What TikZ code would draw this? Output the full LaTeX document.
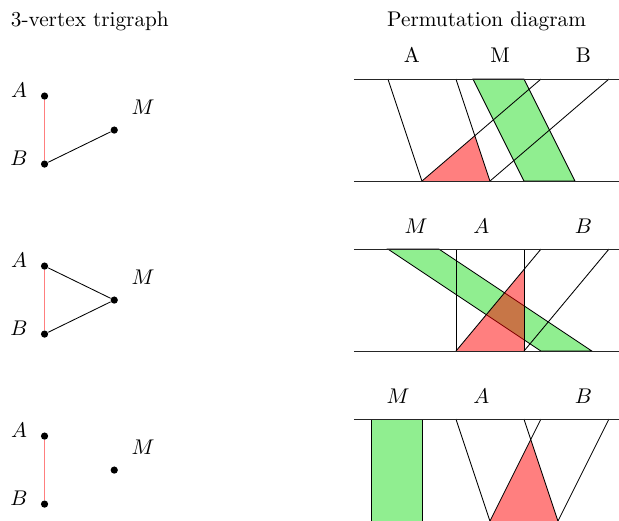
\documentclass[tikz,border=0pt]{standalone}
\usepackage{xcolor}
\usepackage{tikz}
\definecolor{lightgreen}{RGB}{144,238,144}
\tikzset{
  vertex/.style={circle, fill=black, inner sep=0pt, minimum size=3.4pt},
  band/.style={draw=black, fill=lightgreen},
  meet/.style={fill=red, fill opacity=0.5},
  strand/.style={black, line width=0.4pt},
  rail/.style={black!85, line width=0.4pt},
  redge/.style={red, draw opacity=0.5, line width=0.8pt},
}

\begin{document}
\begin{tikzpicture}[x=8pt, y=8pt]
    \useasboundingbox (-22.82,4.65) rectangle (13.59,-25.94);
    \clip (-22.82,4.65) rectangle (13.59,-25.94);

    \node[anchor=base west, inner sep=0pt] (ttlgraph) at (-22.2,3.1) {3-vertex trigraph};
    \node[anchor=base, inner sep=0pt] (ttlperm) at (5.8,3.1) {Permutation diagram};

    % row 1: A--B red, B--M
    \node[vertex] (A1) at (-20.2,-1) {};
    \node[vertex] (B1) at (-20.2,-5) {};
    \node[vertex] (M1) at (-16.1,-3) {};
    \node at (-21.7,-0.65) {$A$};
    \node at (-21.7,-4.65) {$B$};
    \node at (-14.4,-1.65) {$M$};
    \draw[redge] (A1) -- (B1);
    \draw[strand] (B1) -- (M1);

    \filldraw[band] (5,0) -- (8,0) -- (11,-6) -- (8,-6) -- cycle;
    \fill[meet] (2,-6) -- (6,-6) -- (intersection of 4,0--6,-6 and 9,0--2,-6) -- cycle;
    \draw[strand] (0,0) -- (2,-6);
    \draw[strand] (4,0) -- (6,-6);
    \draw[strand] (9,0) -- (2,-6);
    \draw[strand] (13,0) -- (6,-6);
    \draw[rail] (-2,0) -- (14,0);
    \draw[rail] (-2,-6) -- (14,-6);
    \node[anchor=base] at (1.4,0.95) {A};
    \node[anchor=base] at (6.6,0.95) {M};
    \node[anchor=base] at (11.5,0.95) {B};

    % row 2: triangle
    \node[vertex] (A2) at (-20.2,-11) {};
    \node[vertex] (B2) at (-20.2,-15) {};
    \node[vertex] (M2) at (-16.1,-13) {};
    \node at (-21.7,-10.65) {$A$};
    \node at (-21.7,-14.65) {$B$};
    \node at (-14.4,-11.65) {$M$};
    \draw[redge] (A2) -- (B2);
    \draw[strand] (A2) -- (M2);
    \draw[strand] (B2) -- (M2);

    \filldraw[band] (0,-10) -- (3,-10) -- (12,-16) -- (9,-16) -- cycle;
    \fill[meet] (4,-16) -- (8,-16) -- (intersection of 8,-10--8,-16 and 9,-10--4,-16) -- cycle;
    \draw[strand] (4,-10) -- (4,-16);
    \draw[strand] (8,-10) -- (8,-16);
    \draw[strand] (9,-10) -- (4,-16);
    \draw[strand] (13,-10) -- (8,-16);
    \draw[rail] (-2,-10) -- (14,-10);
    \draw[rail] (-2,-16) -- (14,-16);
    \node[anchor=base] at (1.65,-9.08) {$M$};
    \node[anchor=base] at (5.5,-9.08) {$A$};
    \node[anchor=base] at (11.5,-9.08) {$B$};

    % row 3: M isolated
    \node[vertex] (A3) at (-20.2,-21) {};
    \node[vertex] (B3) at (-20.2,-25) {};
    \node[vertex] (M3) at (-16.1,-23) {};
    \node at (-21.7,-20.65) {$A$};
    \node at (-21.7,-24.65) {$B$};
    \node at (-14.4,-21.65) {$M$};
    \draw[redge] (A3) -- (B3);

    \filldraw[band] (-1,-20) rectangle (2,-26);
    \fill[meet] (6,-26) -- (10,-26) -- (intersection of 8,-20--10,-26 and 9,-20--6,-26) -- cycle;
    \draw[strand] (4,-20) -- (6,-26);
    \draw[strand] (8,-20) -- (10,-26);
    \draw[strand] (9,-20) -- (6,-26);
    \draw[strand] (13,-20) -- (10,-26);
    \draw[rail] (-2,-20) -- (14,-20);
    \draw[rail] (-2,-26) -- (14,-26);
    \node[anchor=base] at (0.6,-19.1) {$M$};
    \node[anchor=base] at (5.5,-19.1) {$A$};
    \node[anchor=base] at (11.5,-19.1) {$B$};
\end{tikzpicture}
\end{document}
